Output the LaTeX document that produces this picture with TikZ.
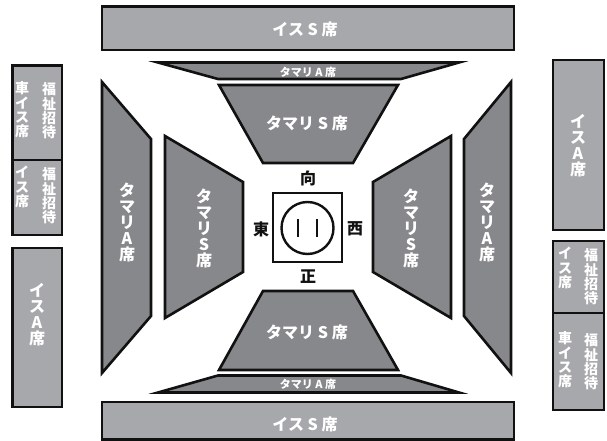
\documentclass[tikz,border=0pt]{standalone}
\usepackage{fontspec}
\newfontfamily\cjk[BoldFont={Noto Sans CJK JP Black}]{Noto Sans CJK JP}
\definecolor{isugray}{HTML}{A7A8AC}
\definecolor{tamarigray}{HTML}{87888C}
\definecolor{inkblack}{HTML}{111111}
\begin{document}
\begin{tikzpicture}[x=1pt,y=-1pt,
    isu/.style={draw=inkblack,line width=2.6pt,fill=isugray},
    tamari/.style={draw=inkblack,line width=2.6pt,fill=tamarigray,miter limit=20},
    lbl/.style={text=white,inner sep=0pt,align=center,font=\cjk\bfseries\fontsize{16}{16}\selectfont},
    lblsmall/.style={lbl,font=\cjk\bfseries\fontsize{11}{12}\selectfont},
    lblside/.style={lbl,font=\cjk\bfseries\fontsize{14}{14.3}\selectfont},
    dir/.style={text=inkblack,inner sep=0pt,font=\cjk\bfseries\fontsize{16}{16}\selectfont}]

      \useasboundingbox (0,0) rectangle (607,441);

      % isu seats
      \draw[isu] (102,6.5) rectangle (514,50);
      \draw[isu] (102,402) rectangle (514,439.5);
      \draw[isu] (12.5,65.5) rectangle (62,235);
      \draw[isu] (12.5,160) -- (62,160);
      \draw[isu] (12.5,248) rectangle (62,407);
      \draw[isu] (553,60) rectangle (604,230);
      \draw[isu] (553,241) rectangle (604,410);
      \draw[isu] (553,313) -- (604,313);

      % tamari seats
      \draw[tamari] (158,62.5) -- (459,62.5) -- (401,79) -- (218,79) -- cycle;
      \draw[tamari] (219,85) -- (398,85) -- (353,163) -- (263,163) -- cycle;
      \draw[tamari] (263,291) -- (353,291) -- (398,370) -- (219,370) -- cycle;
      \draw[tamari] (218,375.5) -- (401,375.5) -- (459,392.5) -- (158,392.5) -- cycle;
      \draw[tamari] (102,82) -- (151,139) -- (151,316) -- (102,373) -- cycle;
      \draw[tamari] (165,136) -- (243,182) -- (243,272) -- (165,318) -- cycle;
      \draw[tamari] (373,182) -- (451,136) -- (451,318) -- (373,272) -- cycle;
      \draw[tamari] (464,139) -- (511,82) -- (511,373) -- (464,316) -- cycle;

      % ring
      \draw[draw=inkblack,line width=2.4pt,fill=white] (273,193) rectangle (342,262);
      \draw[draw=inkblack,line width=2.4pt] (307.5,228) circle (26);
      \draw[draw=inkblack,line width=2.6pt] (298,219) -- (298,237);
      \draw[draw=inkblack,line width=2.6pt] (317,219) -- (317,237);

      \node[dir] (muko)  at (308,178) {向};
      \node[dir] (sho)   at (308,277) {正};
      \node[dir] (higa)  at (261,229) {東};
      \node[dir] (nishi) at (355,229) {西};

      \node[lbl] (isuT) at (305,29)  {イス S 席};
      \node[lbl] (isuB) at (305,424) {イス S 席};
      \node[lbl] (tamSt) at (307,123) {タマリ S 席};
      \node[lbl] (tamSb) at (307,332) {タマリ S 席};
      \node[lblsmall] (tamAt) at (308,72)  {タマリ A 席};
      \node[lblsmall] (tamAb) at (308,384) {タマリ A 席};

      \node[lbl] (tamA1) at (127,222) {タ\\マ\\リ\\A\\席};
      \node[lbl] (tamS1) at (204,228) {タ\\マ\\リ\\S\\席};
      \node[lbl] (tamS2) at (411,228) {タ\\マ\\リ\\S\\席};
      \node[lbl] (tamA2) at (487,222) {タ\\マ\\リ\\A\\席};
      \node[lbl] (isuA1) at (37,315)  {イ\\ス\\A\\席};
      \node[lbl] (isuA2) at (578,146) {イ\\ス\\A\\席};

      \node[lblside] (kuru1) at (22,110)  {車\\イ\\ス\\席};
      \node[lblside] (fuku1) at (49,111)  {福\\祉\\招\\待};
      \node[lblside] (isuW1) at (22,187)  {イ\\ス\\席};
      \node[lblside] (fuku2) at (49,196)  {福\\祉\\招\\待};
      \node[lblside] (isuW2) at (565,268) {イ\\ス\\席};
      \node[lblside] (fuku3) at (591,277) {福\\祉\\招\\待};
      \node[lblside] (kuru2) at (565,360) {車\\イ\\ス\\席};
      \node[lblside] (fuku4) at (591,362) {福\\祉\\招\\待};

    \end{tikzpicture}
\end{document}
